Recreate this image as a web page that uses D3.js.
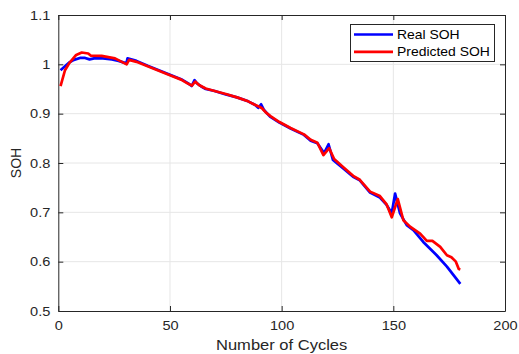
<!DOCTYPE html>
<html>
<head>
<meta charset="utf-8">
<script src="https://cdn.jsdelivr.net/npm/d3@7"></script>
<style>
  body { margin: 0; background: #fff; }
  svg { display: block; font-family: "Liberation Sans", Arial, sans-serif; }
</style>
</head>
<body>
<svg id="chart" width="519" height="354"></svg>
<script>
// Cycle numbers and state-of-health values for the measured curve
const realCycles = [1, 3, 5, 7, 9.7, 12, 14, 16, 20, 24, 27, 30.5, 31, 35, 40, 45, 50, 55, 58, 59.7, 61, 62, 64, 66, 70, 75, 80, 85, 88, 89.5, 90.8, 92, 94.8, 99, 104, 110, 113, 116, 119, 121, 123, 127.6, 132, 135, 139.6, 144, 147, 149.3, 150.8, 153, 156, 159, 163.4, 169.4, 174, 180];
const realSOH = [0.988, 0.996, 1.004, 1.009, 1.013, 1.013, 1.010, 1.012, 1.012, 1.010, 1.007, 1.002, 1.012, 1.007, 0.997, 0.988, 0.979, 0.970, 0.962, 0.956, 0.968, 0.962, 0.955, 0.950, 0.946, 0.939, 0.933, 0.925, 0.918, 0.912, 0.919, 0.908, 0.894, 0.882, 0.870, 0.857, 0.845, 0.840, 0.820, 0.838, 0.806, 0.789, 0.772, 0.765, 0.740, 0.730, 0.715, 0.698, 0.738, 0.698, 0.674, 0.664, 0.640, 0.613, 0.590, 0.555];

// Cycle numbers and state-of-health values for the model prediction
const predCycles = [1, 3, 5, 8, 10.5, 13.4, 14.6, 19.4, 25.4, 30.6, 31.7, 35, 40, 45, 50, 55, 58, 59.8, 61.3, 63, 66, 70, 75, 80, 85, 88, 90, 91.2, 93, 95, 99, 104, 110, 113, 116, 118.7, 121.3, 123.5, 128, 132, 135, 139.6, 144, 147, 149.3, 152, 154.5, 157.5, 162, 165, 167.5, 171, 174, 176, 178, 179.3, 180];
const predSOH = [0.956, 0.988, 1.003, 1.019, 1.024, 1.022, 1.0175, 1.017, 1.012, 1.000, 1.009, 1.005, 0.996, 0.987, 0.978, 0.969, 0.961, 0.957, 0.965, 0.958, 0.951, 0.946, 0.940, 0.933, 0.925, 0.918, 0.914, 0.911, 0.902, 0.895, 0.883, 0.871, 0.858, 0.847, 0.841, 0.816, 0.830, 0.808, 0.790, 0.774, 0.766, 0.742, 0.733, 0.716, 0.690, 0.727, 0.684, 0.671, 0.657, 0.642, 0.642, 0.630, 0.613, 0.609, 0.600, 0.585, 0.584];

// Axis ticks
const xTicks = [0, 50, 100, 150, 200];
const yTicks = [0.5, 0.6, 0.7, 0.8, 0.9, 1.0, 1.1];
const yTickLabels = ["0.5", "0.6", "0.7", "0.8", "0.9", "1", "1.1"];

const seriesNames = ["Real SOH", "Predicted SOH"];
const seriesColors = ["#0000ff", "#ff0000"];

const svg = d3.select("#chart");
const plotL = 58.3, plotR = 505, plotT = 15, plotB = 311;
const axisColor = "#262626";

// Widen glyphs horizontally by factor k
function widen(sel, k) {
  sel.each(function () {
    const w = this.getComputedTextLength();
    d3.select(this).attr("textLength", w * k).attr("lengthAdjust", "spacingAndGlyphs");
  });
}

const x = d3.scaleLinear().domain([0, 200]).range([plotL, plotR]);
const y = d3.scaleLinear().domain([0.5, 1.1]).range([plotB, plotT]);

// Grid
const grid = svg.append("g").attr("stroke", "#e6e6e6").attr("stroke-width", 1);
xTicks.slice(1, -1).forEach(t => {
  grid.append("line").attr("x1", x(t)).attr("x2", x(t)).attr("y1", plotT).attr("y2", plotB);
});
yTicks.slice(1, -1).forEach(t => {
  grid.append("line").attr("x1", plotL).attr("x2", plotR).attr("y1", y(t)).attr("y2", y(t));
});

// Axes with inward ticks
const xAxis = svg.append("g").attr("transform", `translate(0,${plotB})`)
  .call(d3.axisBottom(x).tickValues(xTicks).tickSizeInner(-5).tickSizeOuter(0).tickPadding(10));
const yAxis = svg.append("g").attr("transform", `translate(${plotL},0)`)
  .call(d3.axisLeft(y).tickValues(yTicks).tickFormat((d, i) => yTickLabels[i]).tickSizeInner(-5).tickSizeOuter(0).tickPadding(8));
const xTop = svg.append("g").attr("transform", `translate(0,${plotT})`)
  .call(d3.axisTop(x).tickValues(xTicks).tickSizeInner(-5).tickSizeOuter(0).tickFormat(""));
const yRight = svg.append("g").attr("transform", `translate(${plotR},0)`)
  .call(d3.axisRight(y).tickValues(yTicks).tickSizeInner(-5).tickSizeOuter(0).tickFormat(""));

[xAxis, yAxis, xTop, yRight].forEach(a => {
  a.selectAll("path").attr("stroke", axisColor).attr("stroke-width", 1);
  a.selectAll("line").attr("stroke", axisColor);
  a.selectAll("text").attr("fill", axisColor).style("font-size", "13px")
    .style("font-family", "'Liberation Sans', Arial, sans-serif");
});
widen(xAxis.selectAll("text"), 1.12);
widen(yAxis.selectAll("text"), 1.12);

// Series lines
const line = d3.line().x(d => x(d[0])).y(d => y(d[1]));
const realData = realCycles.map((c, i) => [c, realSOH[i]]);
const predData = predCycles.map((c, i) => [c, predSOH[i]]);
[realData, predData].forEach((data, i) => {
  svg.append("path").datum(data)
    .attr("fill", "none")
    .attr("stroke", seriesColors[i])
    .attr("stroke-width", 2.7)
    .attr("stroke-linejoin", "round")
    .attr("d", line);
});

// Axis titles
const xTitle = svg.append("text").attr("x", (plotL + plotR) / 2).attr("y", 350)
  .attr("text-anchor", "middle").attr("fill", axisColor).style("font-size", "14px")
  .text("Number of Cycles");
widen(xTitle, 1.18);
svg.append("text").attr("transform", `translate(21,${(plotT + plotB) / 2}) rotate(-90)`)
  .attr("text-anchor", "middle").attr("fill", axisColor).style("font-size", "14px")
  .text("SOH");

// Legend
const lg = svg.append("g");
lg.append("rect").attr("x", 350.5).attr("y", 24.5).attr("width", 144).attr("height", 37)
  .attr("fill", "#fff").attr("stroke", axisColor).attr("stroke-width", 1);
seriesNames.forEach((name, i) => {
  const ly = 34.5 + i * 17.3;
  lg.append("line").attr("x1", 354).attr("x2", 393).attr("y1", ly).attr("y2", ly)
    .attr("stroke", seriesColors[i]).attr("stroke-width", 2.7);
  const t = lg.append("text").attr("x", 397).attr("y", ly + 4.5).attr("fill", "#000")
    .style("font-size", "13px").text(name);
  widen(t, 1.07);
});
</script>
</body>
</html>
